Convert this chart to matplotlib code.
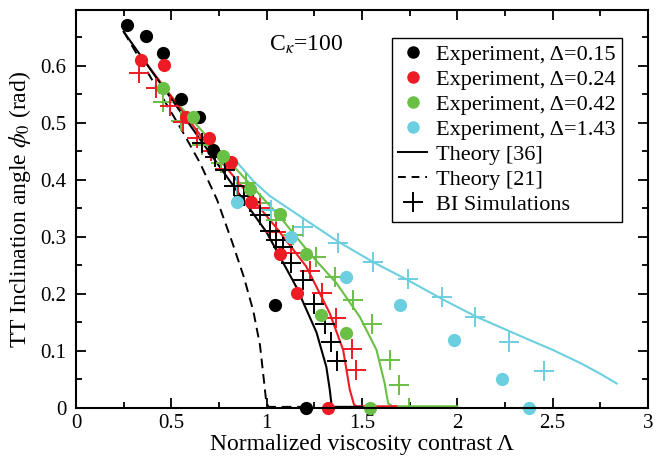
import matplotlib
matplotlib.use("Agg")
import matplotlib.pyplot as plt
from matplotlib.lines import Line2D
from matplotlib.ticker import MultipleLocator, FuncFormatter

plt.rcParams['font.family'] = ['Liberation Serif', 'DejaVu Serif']
plt.rcParams['mathtext.fontset'] = 'stix'

BLACK = 'black'
RED = '#ed1c24'
GREEN = '#6abf45'
BLUE = '#6ccfe0'

# experiments (filled circles)
exp_015_x = [0.27, 0.365, 0.456, 0.552, 0.645, 0.72, 1.045, 1.205]
exp_015_y = [0.672, 0.653, 0.622, 0.542, 0.511, 0.452, 0.18, 0.0]
exp_024_x = [0.342, 0.459, 0.578, 0.70, 0.815, 0.92, 1.072, 1.159, 1.322]
exp_024_y = [0.611, 0.602, 0.511, 0.473, 0.432, 0.362, 0.270, 0.201, 0.0]
exp_042_x = [0.456, 0.613, 0.771, 0.911, 1.068, 1.208, 1.286, 1.418, 1.541]
exp_042_y = [0.561, 0.511, 0.442, 0.384, 0.340, 0.270, 0.163, 0.132, 0.0]
exp_143_x = [0.846, 1.13, 1.418, 1.698, 1.982, 2.232, 2.377]
exp_143_y = [0.362, 0.300, 0.230, 0.181, 0.120, 0.050, 0.0]

# BI simulations (plus markers)
sim_015_x = [0.66, 0.73, 0.78, 0.83, 0.88, 0.91, 0.963, 1.016, 1.05, 1.086,
             1.13, 1.19, 1.25, 1.305, 1.34, 1.368]
sim_015_y = [0.465, 0.441, 0.418, 0.390, 0.372, 0.362, 0.339, 0.311, 0.295,
             0.283, 0.255, 0.225, 0.183, 0.147, 0.116, 0.083]
sim_024_x = [0.333, 0.421, 0.491, 0.561, 0.635, 0.71, 0.78, 0.85, 0.963,
             1.051, 1.13, 1.226, 1.29, 1.366, 1.445, 1.471]
sim_024_y = [0.587, 0.561, 0.530, 0.501, 0.474, 0.450, 0.419, 0.390, 0.350,
             0.309, 0.271, 0.241, 0.201, 0.158, 0.104, 0.067]
sim_042_x = [0.456, 0.552, 0.66, 0.76, 0.893, 0.963, 1.05, 1.138, 1.261,
             1.357, 1.453, 1.55, 1.646, 1.695, 1.747]
sim_042_y = [0.537, 0.504, 0.462, 0.430, 0.394, 0.360, 0.330, 0.304, 0.265,
             0.230, 0.190, 0.147, 0.084, 0.040, 0.0]
sim_143_x = [0.845, 1.025, 1.19, 1.374, 1.558, 1.742, 1.92, 2.092, 2.272, 2.454]
sim_143_y = [0.389, 0.347, 0.318, 0.289, 0.256, 0.227, 0.194, 0.160, 0.115, 0.065]

# Theory [36] (solid)
th_015_x = [0.25, 0.666, 1.0, 1.156, 1.261, 1.313, 1.331, 1.34, 1.345, 1.5]
th_015_y = [0.66, 0.464, 0.308, 0.212, 0.133, 0.072, 0.032, 0.006, 0.002, 0.002]
th_024_x = [0.35, 0.70, 1.051, 1.208, 1.331, 1.401, 1.436, 1.458, 1.47, 1.68]
th_024_y = [0.613, 0.457, 0.316, 0.248, 0.166, 0.102, 0.032, 0.006, 0.003, 0.003]
th_042_x = [0.447, 0.75, 1.068, 1.226, 1.366, 1.488, 1.576, 1.619, 1.637,
            1.66, 2.0]
th_042_y = [0.567, 0.452, 0.336, 0.271, 0.219, 0.160, 0.102, 0.043, 0.008,
            0.003, 0.003]
th_143_x = [0.842, 0.93, 1.016, 1.19, 1.374, 1.558, 1.742, 1.926, 2.1, 2.346,
            2.5, 2.65, 2.75, 2.836]
th_143_y = [0.432, 0.398, 0.372, 0.333, 0.292, 0.256, 0.224, 0.190, 0.160,
            0.124, 0.102, 0.078, 0.060, 0.043]

# Theory [21] (dashed)
th21_x = [0.25, 0.4, 0.55, 0.65, 0.74, 0.82, 0.88, 0.93, 0.965, 0.985, 0.998,
          1.01, 1.2]
th21_y = [0.66, 0.575, 0.49, 0.43, 0.365, 0.29, 0.23, 0.17, 0.11, 0.05, 0.01,
          0.002, 0.002]

fig = plt.figure(figsize=(6.56, 4.59), dpi=100)
ax = fig.add_axes([76 / 656, 51 / 459, 572 / 656, 398 / 459])

# theory curves
ax.plot(th21_x, th21_y, color=BLACK, lw=1.4, ls=(0, (5, 3)))
for xs, ys, c in [(th_143_x, th_143_y, BLUE), (th_042_x, th_042_y, GREEN),
                  (th_024_x, th_024_y, RED), (th_015_x, th_015_y, BLACK)]:
    ax.plot(xs, ys, color=c, lw=1.5)

# simulations
for xs, ys, c in [(sim_143_x, sim_143_y, BLUE), (sim_042_x, sim_042_y, GREEN),
                  (sim_024_x, sim_024_y, RED), (sim_015_x, sim_015_y, BLACK)]:
    ax.plot(xs, ys, ls='none', marker='+', ms=15, mew=1.4, color=c)

# experiments
for xs, ys, c in [(exp_015_x, exp_015_y, BLACK), (exp_024_x, exp_024_y, RED),
                  (exp_042_x, exp_042_y, GREEN), (exp_143_x, exp_143_y, BLUE)]:
    ax.plot(xs, ys, ls='none', marker='o', ms=9.5, mew=0, color=c, clip_on=False)

ax.set_xlim(0, 3)
ax.set_ylim(0, 0.698)
ax.xaxis.set_major_locator(MultipleLocator(0.5))
ax.xaxis.set_minor_locator(MultipleLocator(0.25))
ax.yaxis.set_major_locator(MultipleLocator(0.1))
ax.yaxis.set_minor_locator(MultipleLocator(0.05))
ax.xaxis.set_major_formatter(FuncFormatter(lambda v, p: '%g' % v))
ax.yaxis.set_major_formatter(FuncFormatter(lambda v, p: '0' if abs(v) < 1e-9 else '%.1f' % v))
ax.tick_params(which='both', direction='in', top=True, right=True, width=1.3)
ax.tick_params(which='major', length=7, labelsize=15)
ax.tick_params(axis='y', which='major', pad=7)
ax.tick_params(axis='x', which='major', pad=4)
ax.tick_params(which='minor', length=4.5)
for s in ax.spines.values():
    s.set_linewidth(1.5)

ax.set_xlabel('Normalized viscosity contrast Λ', fontsize=17, labelpad=1)
ax.set_ylabel(r'TT Inclination angle $\phi_0$ (rad)', fontsize=17, labelpad=5)

ax.text(1.205, 0.637, r'C$_\kappa$=100', fontsize=17, ha='center', va='center')

handles = [
    Line2D([], [], ls='none', marker='o', ms=9, mew=0, color=BLACK),
    Line2D([], [], ls='none', marker='o', ms=9, mew=0, color=RED),
    Line2D([], [], ls='none', marker='o', ms=9, mew=0, color=GREEN),
    Line2D([], [], ls='none', marker='o', ms=9, mew=0, color=BLUE),
    Line2D([], [], color=BLACK, lw=1.4),
    Line2D([], [], color=BLACK, lw=1.4, ls=(0, (4, 3))),
    Line2D([], [], ls='none', marker='+', ms=14, mew=1.4, color=BLACK),
]
labels = ['Experiment, Δ=0.15', 'Experiment, Δ=0.24', 'Experiment, Δ=0.42',
          'Experiment, Δ=1.43', 'Theory [36]', 'Theory [21]', 'BI Simulations']
leg = ax.legend(handles, labels, loc='upper right', bbox_to_anchor=(0.955, 0.93),
                fontsize=16, frameon=True, fancybox=False, edgecolor='black',
                framealpha=1, handlelength=1.3, handletextpad=0.4,
                labelspacing=0.2, borderpad=0.3, borderaxespad=0)
leg.get_frame().set_linewidth(1.0)

fig.savefig('out.png', dpi=100)
